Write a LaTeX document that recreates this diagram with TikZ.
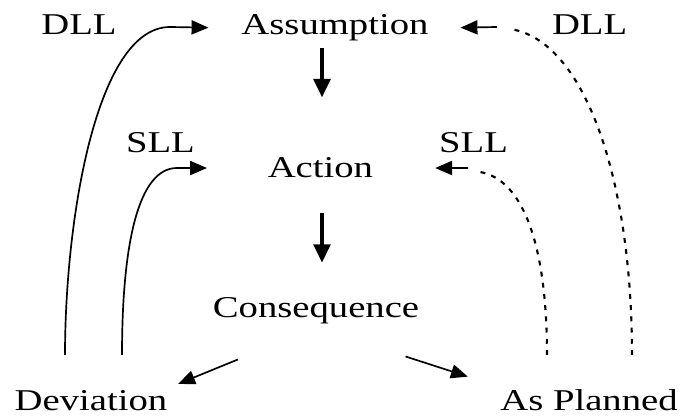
\documentclass[tikz,border=0pt]{standalone}
\usepackage{fontspec}
\setmainfont{Liberation Serif}[FakeStretch=1.28]
\usetikzlibrary{arrows.meta}

\begin{document}
\begin{tikzpicture}[
	lbl/.style={font=\fontsize{21.5}{26}\selectfont, inner sep=2pt, anchor=base},
	curv/.style={line width=1.2pt},
	dcurv/.style={line width=1.5pt, dash pattern=on 3.5pt off 4.5pt},
	tip/.style={line width=1.2pt, -{Triangle[length=12pt,width=10pt]}},
	down/.style={line width=2.2pt, -{Triangle[length=13pt,width=12pt]}}
]
	%\draw[help lines, thick] (0,0) grid (17,10);
	\useasboundingbox (0,0) rectangle (17,10.425);
	\node[lbl] (dllL) at (1.975,9.55) {DLL};
	\node[lbl] (assum) at (8.375,9.55) {Assumption};
	\node[lbl] (dllR) at (14.74,9.55) {DLL};
	\node[lbl] (sllL) at (4.01,6.6) {SLL};
	\node[lbl] (action) at (8.01,5.975) {Action};
	\node[lbl] (sllR) at (11.84,6.6) {SLL};
	\node[lbl] (conseq) at (7.9,2.475) {Consequence};
	\node[lbl] (dev) at (2.275,0.17) {Deviation};
	\node[lbl] (plan) at (14.725,0.17) {As Planned};
	\coordinate (axis) at (8.05,0);
	\coordinate (dl0) at (1.625,1.55);
	\coordinate (sl0) at (3.05,1.55);
	\coordinate (sr0) at (13.675,1.55);
	\coordinate (dr0) at (15.8,1.55);
	\coordinate (sr1) at (11.7,6.225);
	\coordinate (dr1) at (12.425,9.75);
	\draw [down, shorten <=2.5pt, shorten >=41pt] (assum.south -| axis) -- (action.north -| axis);
	\draw [down, shorten <=22.7pt, shorten >=23pt] (action.south -| axis) -- (conseq.north -| axis);
	\draw [tip, shorten <=60pt, shorten >=6pt] (conseq.south) -- (dev.north east);
	\draw [tip, shorten <=67pt, shorten >=22pt] (conseq.south) -- (plan.north west);
	\draw [curv] (dl0) .. controls (1.625,4.9) and (2.4,9.75) .. (4.25,9.75);
	\draw [tip, shorten >=21.3pt] (4.25,9.75) -- (assum.west);
	\draw [curv] (sl0) .. controls (3.05,4.3) and (3.45,6.225) .. (4.425,6.225);
	\draw [tip, shorten >=41pt] (4.425,6.225) -- (action.west);
	\draw [dcurv] (dr0) .. controls (15.8,5.925) and (14.625,9.425) .. (12.75,9.7);
	\draw [tip, shorten >=20.6pt] (dr1) -- (assum.east);
	\draw [dcurv] (sr0) .. controls (13.675,4.175) and (13.125,5.925) .. (12.0,6.125);
	\draw [tip, shorten >=42pt] (sr1) -- (action.east);
\end{tikzpicture}
\end{document}
